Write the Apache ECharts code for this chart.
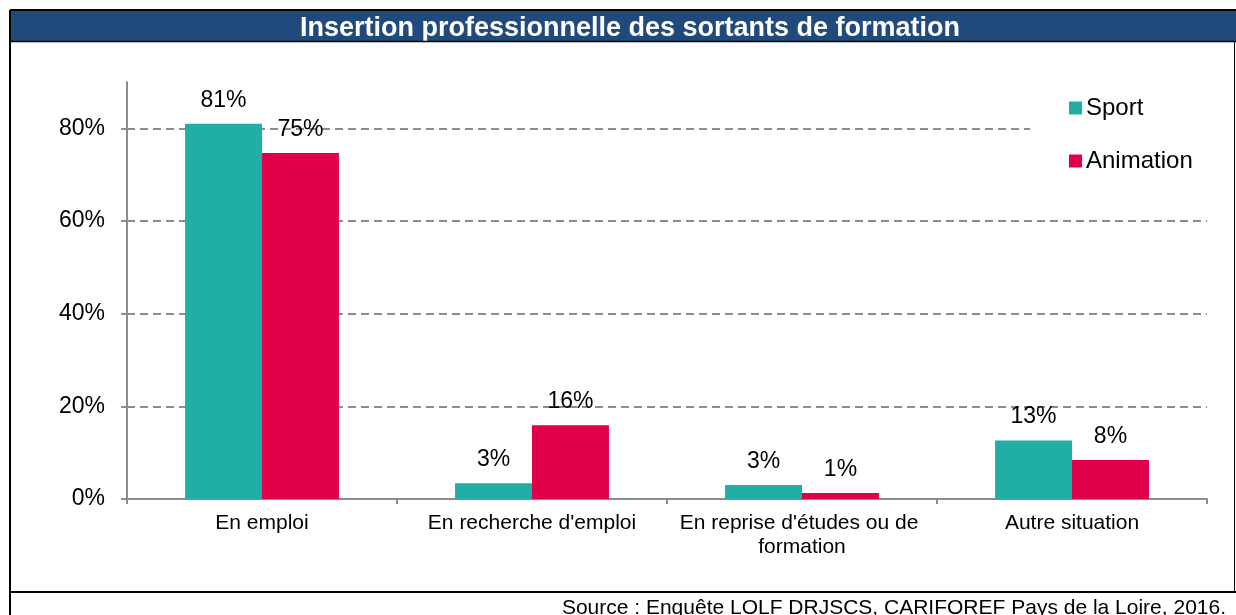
<!DOCTYPE html>
<html>
<head>
<meta charset="utf-8">
<script src="https://cdn.jsdelivr.net/npm/echarts@6/dist/echarts.min.js"></script>
<style>
html,body{margin:0;padding:0;background:#fff;}
#c{width:1236px;height:615px;}
</style>
</head>
<body>
<div id="c"></div>
<script>
var titleText = "Insertion professionnelle des sortants de formation";
var sourceText = "Source : Enquête LOLF DRJSCS, CARIFOREF Pays de la Loire, 2016.";
var categories = ["En emploi", "En recherche d'emploi", "En reprise d'études ou de formation", "Autre situation"];
var seriesNames = ["Sport", "Animation"];
var sportValues = [81, 3.4, 3, 12.6];
var animationValues = [74.7, 15.9, 1.3, 8.4];
var yTicks = [0, 20, 40, 60, 80];

var FONT = "'Liberation Sans', Arial, sans-serif";
var chart = echarts.init(document.getElementById('c'), null, {renderer: 'canvas'});

var option = {
  backgroundColor: '#ffffff',
  animation: false,
  textStyle: {fontFamily: FONT},
  title: {
    text: titleText,
    left: 625,
    top: 10,
    textAlign: 'center',
    textStyle: {color: '#ffffff', fontSize: 27, fontWeight: 'bold', fontFamily: FONT}
  },
  legend: {
    orient: 'vertical',
    left: 1030,
    top: 82,
    padding: [14, 40, 20, 39],
    backgroundColor: '#ffffff',
    itemWidth: 13,
    itemHeight: 13,
    itemGap: 29,
    icon: 'rect',
    data: seriesNames,
    textStyle: {fontSize: 24, color: '#000', fontFamily: FONT, padding: [0, 0, 0, -1]},
    z: 10
  },
  grid: {left: 127, right: 29, top: 82, bottom: 116, containLabel: false},
  xAxis: {
    type: 'category',
    data: categories,
    axisLine: {show: true, lineStyle: {color: '#8c8c8c', width: 2}},
    axisTick: {show: true, length: 5, lineStyle: {color: '#8c8c8c', width: 2}},
    axisLabel: {
      fontSize: 21, color: '#000', fontFamily: FONT, margin: 12,
      width: 260, overflow: 'break', lineHeight: 24, interval: 0
    }
  },
  yAxis: {
    type: 'value',
    min: 0,
    max: 90,
    interval: 20,
    axisLine: {show: true, lineStyle: {color: '#8c8c8c', width: 2}},
    axisTick: {show: true, length: 6, lineStyle: {color: '#8c8c8c', width: 2}},
    axisLabel: {
      fontSize: 23, color: '#000', fontFamily: FONT, margin: 22,
      showMaxLabel: false,
      formatter: function (v) { return yTicks.indexOf(v) >= 0 ? v + '%' : ''; }
    },
    splitLine: {show: true, showMaxLine: false, lineStyle: {color: '#8c8c8c', width: 2, type: [8, 5]}}
  },
  series: [
    {
      name: seriesNames[0],
      type: 'bar',
      data: sportValues,
      barGap: '0%',
      barCategoryGap: '43%',
      itemStyle: {color: '#20AEA7'},
      label: {
        show: true, position: 'top', distance: 12, fontSize: 23, color: '#000', fontFamily: FONT,
        formatter: function (p) { return Math.round(p.value) + '%'; }
      }
    },
    {
      name: seriesNames[1],
      type: 'bar',
      data: animationValues,
      barGap: '0%',
      barCategoryGap: '43%',
      itemStyle: {color: '#E0004A'},
      label: {
        show: true, position: 'top', distance: 12, fontSize: 23, color: '#000', fontFamily: FONT,
        formatter: function (p) { return Math.round(p.value) + '%'; }
      }
    }
  ],
  graphic: [
    {type: 'rect', z: -10, silent: true, shape: {x: 10, y: 10, width: 1226, height: 32}, style: {fill: '#204A7C'}},
    {type: 'line', z: 100, silent: true, shape: {x1: 10, y1: 41.5, x2: 1236, y2: 41.5}, style: {stroke: '#000', lineWidth: 1.5}},
    {type: 'line', z: 100, silent: true, shape: {x1: 10, y1: 10, x2: 1236, y2: 10}, style: {stroke: '#000', lineWidth: 2}},
    {type: 'line', z: 100, silent: true, shape: {x1: 10, y1: 10, x2: 10, y2: 615}, style: {stroke: '#000', lineWidth: 2}},
    {type: 'line', z: 100, silent: true, shape: {x1: 1234.5, y1: 42, x2: 1234.5, y2: 592}, style: {stroke: '#000', lineWidth: 1}},
    {type: 'line', z: 100, silent: true, shape: {x1: 10, y1: 592, x2: 1236, y2: 592}, style: {stroke: '#000', lineWidth: 2}},
    {type: 'text', z: 100, silent: true, x: 1226, y: 598,
      style: {text: sourceText, fontSize: 21, fontFamily: FONT, fill: '#000', align: 'right', verticalAlign: 'top'}}
  ]
};
chart.setOption(option);
</script>
</body>
</html>
